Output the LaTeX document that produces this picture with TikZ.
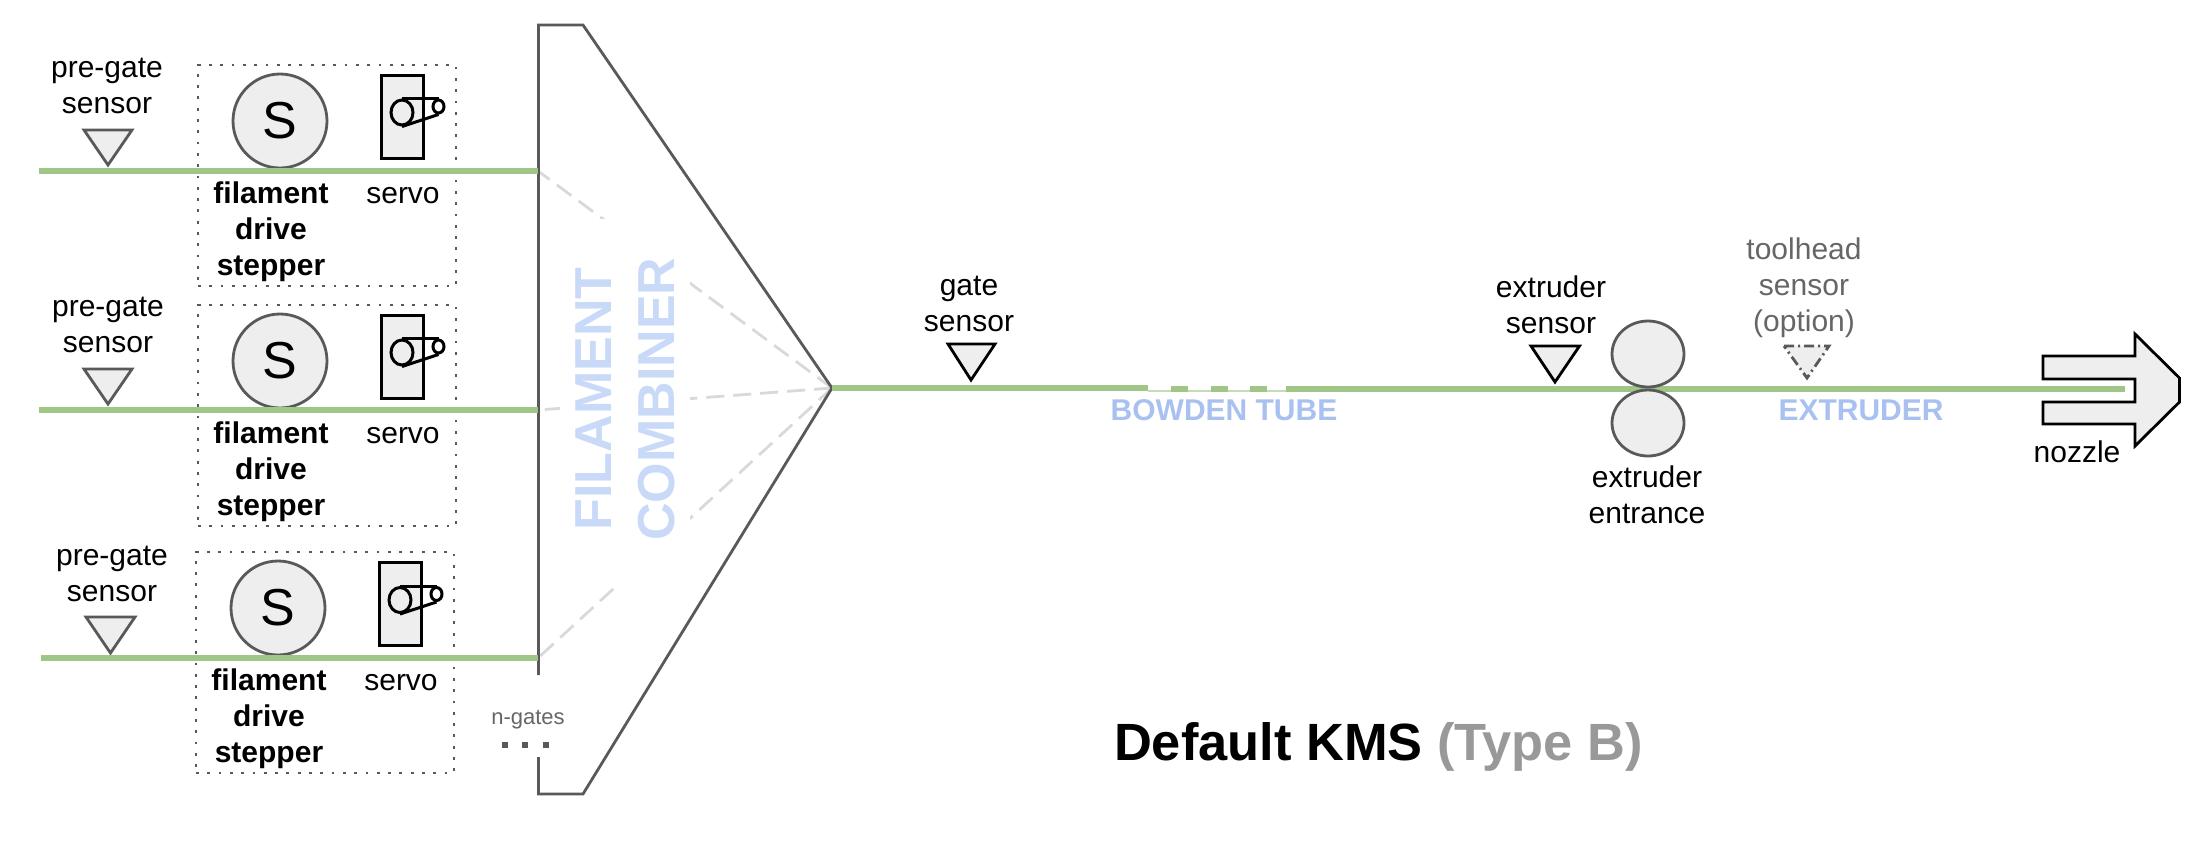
\documentclass[tikz,border=0pt]{standalone}
\usepackage{fontspec}
\setmainfont{Liberation Sans}
\usepackage{xcolor}
\usetikzlibrary{shapes.geometric}
\definecolor{filgreen}{HTML}{9FC587}
\definecolor{outline}{HTML}{595959}
\definecolor{partfill}{HTML}{EEEEEE}
\definecolor{pale}{HTML}{C9DAF8}
\definecolor{zone}{HTML}{A9C1F0}
\definecolor{guide}{HTML}{D9D9D9}
\definecolor{option}{HTML}{666666}
\begin{document}
\begin{tikzpicture}[x=0.5pt, y=-0.5pt, line join=miter,
  lbl/.style={font=\fontsize{15pt}{18pt}\selectfont, align=center, inner sep=0pt},
  boldlbl/.style={lbl, font=\fontsize{15pt}{18pt}\selectfont\bfseries},
  grouped/.style={draw=outline, line width=1.4pt, dash pattern=on 1.4pt off 4.25pt, minimum width=129pt, minimum height=110.5pt, inner sep=0pt},
  motor/.style={circle, draw=outline, fill=partfill, line width=1.4pt, minimum size=47pt, inner sep=0pt, font=\fontsize{26pt}{30pt}\selectfont},
  servobody/.style={draw=black, fill=partfill, line width=1.5pt, minimum width=21pt, minimum height=41.5pt, inner sep=0pt},
  pulley/.style={ellipse, draw=black, line width=1.5pt, inner sep=0pt},
  roller/.style={ellipse, draw=outline, fill=partfill, line width=1.4pt, minimum width=36pt, minimum height=33pt, inner sep=0pt},
  belt/.style={draw=black, line width=1.5pt},
  trigger/.style={draw=outline, fill=partfill, line width=1.4pt, line join=miter},
  filament/.style={draw=filgreen, line width=3.2pt},
  guideline/.style={draw=guide, line width=1.4pt, dash pattern=on 9pt off 4.5pt}]
  \useasboundingbox (0,0) rectangle (2206,842);

  % Combiner: dashed guides first, a white patch hides their middle part
  \coordinate (apex) at (832,388);
  \coordinate (gateA) at (538,171);
  \coordinate (gateB) at (538,410);
  \coordinate (gateC) at (538,658);
  \draw[guideline] (apex) -- (gateA);
  \draw[guideline] (apex) -- (gateB);
  \draw[guideline] (apex) -- (gateC);
  \fill[white] (560,219) rectangle (690,584);
  \node (combiner) at (625,399) [rotate=90, inner sep=0pt, align=center, text=pale, font=\fontsize{26pt}{31.5pt}\selectfont\bfseries] {FILAMENT\\COMBINER};
  \draw[draw=outline, line width=1.4pt] (538.5,675) -- (538.5,25) -- (583,25) -- (apex) -- (583,794) -- (538.5,794) -- (538.5,757);

  % Gate 1
  \node (boxA) at (327,175.5) [grouped] {};
  \node (stepperA) at (280,121) [motor] {S};
  \node (servoA) at (402,116.5) [servobody] {};
  \node (bigA) at (402,112.5) [pulley, minimum width=11pt, minimum height=12.5pt] {};
  \node (smallA) at (438.5,106.5) [pulley, minimum width=5.5pt, minimum height=6.5pt] {};
  \draw[belt] (bigA.north) -- (smallA.north);
  \draw[belt] (bigA.south) -- (smallA.south);
  \draw[trigger] (84,130) -- (132,130) -- (108,165) -- cycle;
  \node (preA) at (107,86) [lbl] {pre-gate\\sensor};
  \node (driveA) at (271,231.5) [boldlbl] {filament\\drive\\stepper};
  \node (servolblA) at (403,195.5) [lbl] {servo};
  \coordinate (startA) at (39,171);
  \draw[filament] (startA) -- (gateA);

  % Gate 2
  \node (boxB) at (327,415.5) [grouped] {};
  \node (stepperB) at (280,361) [motor] {S};
  \node (servoB) at (402,356.5) [servobody] {};
  \node (bigB) at (402,352.5) [pulley, minimum width=11pt, minimum height=12.5pt] {};
  \node (smallB) at (438.5,346.5) [pulley, minimum width=5.5pt, minimum height=6.5pt] {};
  \draw[belt] (bigB.north) -- (smallB.north);
  \draw[belt] (bigB.south) -- (smallB.south);
  \draw[trigger] (84,369) -- (132,369) -- (108,404) -- cycle;
  \node (preB) at (108,325) [lbl] {pre-gate\\sensor};
  \node (driveB) at (271,471.5) [boldlbl] {filament\\drive\\stepper};
  \node (servolblB) at (403,435.5) [lbl] {servo};
  \coordinate (startB) at (39,410);
  \draw[filament] (startB) -- (gateB);

  % Gate 3
  \node (boxC) at (325,662.5) [grouped] {};
  \node (stepperC) at (278,608) [motor] {S};
  \node (servoC) at (400,604) [servobody] {};
  \node (bigC) at (400,600) [pulley, minimum width=11pt, minimum height=12.5pt] {};
  \node (smallC) at (436.5,594) [pulley, minimum width=5.5pt, minimum height=6.5pt] {};
  \draw[belt] (bigC.north) -- (smallC.north);
  \draw[belt] (bigC.south) -- (smallC.south);
  \draw[trigger] (86,617) -- (135,617) -- (110.5,653) -- cycle;
  \node (preC) at (112,574) [lbl] {pre-gate\\sensor};
  \node (driveC) at (269,718.5) [boldlbl] {filament\\drive\\stepper};
  \node (servolblC) at (401,682.5) [lbl] {servo};
  \coordinate (startC) at (41,658);
  \draw[filament] (startC) -- (gateC);

  % More gates
  \node (ngates) at (528,720) [lbl, text=option, font=\fontsize{11pt}{13pt}\selectfont] {n-gates};
  \fill[outline] (502,742) rectangle (508,748);
  \fill[outline] (522,742) rectangle (528,748);
  \fill[outline] (543,742) rectangle (549,748);

  % Path to the nozzle
  \coordinate (tubeA) at (1148,388);
  \coordinate (tubeB) at (1286,389);
  \coordinate (tip) at (2125,389);
  \draw[filament] (apex) -- (tubeA);
  \draw[draw=filgreen!60, line width=0.8pt] (1148,391) -- (1286,391);
  \draw[filament, dash pattern=on 8.5pt off 11.25pt] (1171,389) -- (tubeB);
  \draw[filament] (tubeB) -- (tip);
  \node (bowden) at (1224,410) [text=zone, inner sep=0pt, font=\fontsize{15pt}{18pt}\selectfont\bfseries] {BOWDEN TUBE};
  \node (extruderzone) at (1861,410) [text=zone, inner sep=0pt, font=\fontsize{15pt}{18pt}\selectfont\bfseries] {EXTRUDER};

  % Sensors and rollers
  \draw[trigger, draw=black] (948,344) -- (995,344) -- (971,380) -- cycle;
  \node (gatesensor) at (969,304) [lbl] {gate\\sensor};
  \draw[trigger, draw=black] (1531,346) -- (1579.5,346) -- (1555,382) -- cycle;
  \node (extsensor) at (1551,305) [lbl] {extruder\\sensor};
  \draw[trigger, dash pattern=on 5pt off 2pt on 1pt off 2pt] (1784,346) -- (1829,346) -- (1807,378) -- cycle;
  \node (toolsensor) at (1804,288) [lbl, text=option] {toolhead\\sensor\\(option)};
  \node (rollerA) at (1648,354) [roller] {};
  \node (rollerB) at (1648,423) [roller] {};
  \node (entrance) at (1647,495) [lbl] {extruder\\entrance};

  % Nozzle
  \draw[draw=black, fill=partfill, line width=1.4pt] (2043,356) -- (2135,356) -- (2135,334) -- (2179.5,378) -- (2179.5,402) -- (2135,446) -- (2135,424) -- (2043,424) -- (2043,402) -- (2135,402) -- (2135,379) -- (2043,379) -- cycle;
  \node (nozzle) at (2077,452) [lbl] {nozzle};

  % Title
  \node (title) at (1378.5,747) [inner sep=0pt, font=\fontsize{26.2pt}{30pt}\selectfont\bfseries] {Default KMS \textcolor{black!40}{(Type B)}};
\end{tikzpicture}
\end{document}
